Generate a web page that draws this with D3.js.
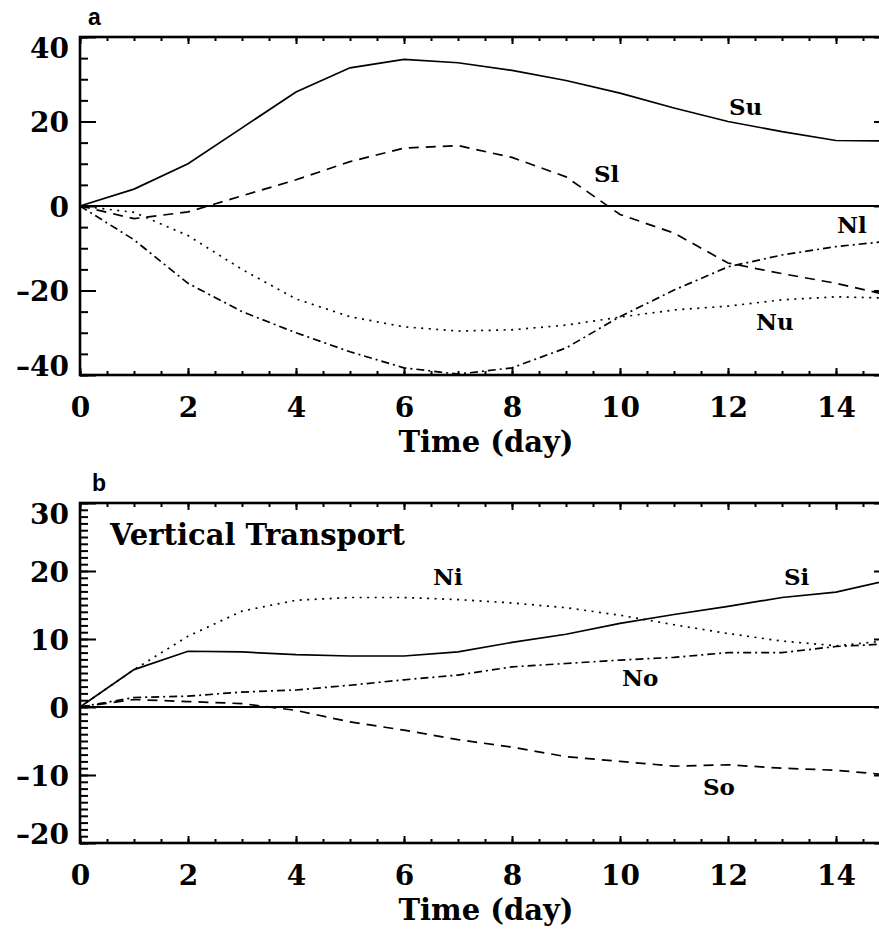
<!DOCTYPE html>
<html>
<head>
<meta charset="utf-8">
<script src="https://cdn.jsdelivr.net/npm/d3@7"></script>
<style>
  html, body { margin: 0; padding: 0; background: #fff; }
  svg { display: block; }
</style>
</head>
<body>
<script>
// ---------------- data ----------------
const days = [0,1,2,3,4,5,6,7,8,9,10,11,12,13,14,15];

// panel a
const Su = [0,4,10,18.5,27,32.7,34.7,33.9,32.1,29.7,26.7,23.2,20,17.6,15.5,15.4];
const Sl = [0,-3,-1.4,2.4,6.2,10.5,13.7,14.3,11.5,6.9,-2,-6.4,-13.5,-16,-18.3,-21.2];
const Nu = [0,-1.5,-7,-15,-22,-26.2,-28.6,-29.6,-29.3,-28.2,-26.3,-24.6,-23.7,-22.2,-21.5,-21.8];
const Nl = [0,-8,-18.3,-25,-30,-34.5,-38.3,-39.8,-38.3,-33.6,-26.2,-19.9,-14.4,-11.6,-9.6,-8.3];

// panel b
const Si = [0,5.5,8.2,8.1,7.7,7.5,7.5,8.1,9.5,10.7,12.3,13.6,14.8,16.1,16.9,18.7];
const Ni = [0,5.5,10.4,14.1,15.7,16.1,16.1,15.8,15.3,14.6,13.5,12.1,10.8,9.7,9.0,9.8];
const No = [0,1.4,1.6,2.2,2.5,3.2,4.0,4.7,5.9,6.4,6.9,7.3,8.0,8.0,8.9,9.3];
const So = [0,1.1,0.8,0.5,-0.5,-2.2,-3.4,-4.8,-5.9,-7.3,-8.0,-8.7,-8.5,-9.0,-9.3,-10.0];

const xTicks = [0,2,4,6,8,10,12,14];
const yTicksA = [-40,-20,0,20,40];
const yTicksB = [-20,-10,0,10,20,30];

// ---------------- layout ----------------
const W = 879, H = 929;
const svg = d3.select("body").append("svg").attr("width", W).attr("height", H);
svg.append("rect").attr("width", W).attr("height", H).attr("fill", "#fff");

const serif = "'DejaVu Serif', serif";
const DASH = { solid: null, dashed: "10,7", dotted: "2,5.5", dashdot: "8,4,2,4" };

function panel(opt) {
  const x = d3.scaleLinear().domain([0, 15]).range([80, 890]);
  const y = d3.scaleLinear().domain(opt.ydom).range([opt.bottom, opt.top]);
  const g = svg.append("g");

  // zero line
  g.append("line").attr("x1", x(0)).attr("x2", x(15)).attr("y1", y(0)).attr("y2", y(0))
    .attr("stroke", "#000").attr("stroke-width", 2);

  // series
  const line = d3.line().x((d, i) => x(days[i])).y(d => y(d));
  opt.series.forEach(s => {
    g.append("path").datum(s.values).attr("d", line)
      .attr("fill", "none").attr("stroke", "#000").attr("stroke-width", 1.7)
      .attr("stroke-dasharray", DASH[s.style]);
  });

  // axes: major + minor ticks on all sides, pointing inward
  const xMinor = d3.range(0, 15.01, 0.5);
  const yMinor = d3.range(opt.ydom[0], opt.ydom[1] + 0.01, opt.yminor);

  const bottomMaj = g.append("g").attr("transform", `translate(0,${opt.bottom})`)
    .call(d3.axisBottom(x).tickValues(xTicks).tickSizeInner(-7).tickSizeOuter(0).tickPadding(0).tickFormat(d3.format("d")));
  g.append("g").attr("transform", `translate(0,${opt.bottom})`)
    .call(d3.axisBottom(x).tickValues(xMinor).tickSizeInner(-4).tickSizeOuter(0).tickFormat(""));
  g.append("g").attr("transform", `translate(0,${opt.top})`)
    .call(d3.axisTop(x).tickValues(xTicks).tickSizeInner(-7).tickSizeOuter(0).tickFormat(""));
  g.append("g").attr("transform", `translate(0,${opt.top})`)
    .call(d3.axisTop(x).tickValues(xMinor).tickSizeInner(-4).tickSizeOuter(0).tickFormat(""));

  const leftMaj = g.append("g").attr("transform", `translate(80,0)`)
    .call(d3.axisLeft(y).tickValues(opt.yticks).tickSizeInner(-16).tickSizeOuter(0).tickPadding(11).tickFormat(d3.format("d")));
  g.append("g").attr("transform", `translate(80,0)`)
    .call(d3.axisLeft(y).tickValues(yMinor).tickSizeInner(-8).tickSizeOuter(0).tickFormat(""));
  g.append("g").attr("transform", `translate(890,0)`)
    .call(d3.axisRight(y).tickValues(opt.yticks).tickSizeInner(-16).tickSizeOuter(0).tickFormat(""));
  g.append("g").attr("transform", `translate(890,0)`)
    .call(d3.axisRight(y).tickValues(yMinor).tickSizeInner(-8).tickSizeOuter(0).tickFormat(""));

  g.selectAll(".domain").remove();
  g.selectAll(".tick line").attr("stroke", "#000").attr("stroke-width", 2);

  // frame
  g.append("rect").attr("x", 80).attr("y", opt.top).attr("width", 810).attr("height", opt.bottom - opt.top)
    .attr("fill", "none").attr("stroke", "#000").attr("stroke-width", 2.6);

  // tick label styling
  bottomMaj.selectAll("text").attr("font-family", serif).attr("font-weight", "bold")
    .attr("font-size", 28).attr("fill", "#000").attr("y", 42).attr("dy", null);
  leftMaj.selectAll("text").attr("font-family", serif).attr("font-weight", "bold")
    .attr("font-size", 28).attr("fill", "#000").attr("dy", null)
    .attr("y", d => {
      if (d === opt.ydom[1]) return 20;          // top label sits inside
      if (d === opt.ydom[0]) return 0;           // bottom label sits on axis
      return 10;
    })
    .text(d => d < 0 ? "\u2013" + Math.abs(d) : d);

  // axis title
  g.append("text").attr("x", 486).attr("y", opt.bottom + 77).attr("text-anchor", "middle")
    .attr("font-family", serif).attr("font-weight", "bold").attr("font-size", 29).text("Time (day)");

  // panel letter
  g.append("text").attr("x", opt.letterX).attr("y", opt.top - 12)
    .attr("font-family", "'Liberation Sans', Arial, sans-serif").attr("font-weight", "bold")
    .attr("font-size", 23).text(opt.letter);

  // series labels
  opt.labels.forEach(l => {
    g.append("text").attr("x", l.x).attr("y", l.y)
      .attr("font-family", serif).attr("font-weight", "bold").attr("font-size", 23).text(l.t);
  });
  return g;
}

panel({
  top: 37, bottom: 375, ydom: [-40, 40], yminor: 5, yticks: yTicksA, letter: "a", letterX: 88,
  series: [
    { values: Su, style: "solid" },
    { values: Sl, style: "dashed" },
    { values: Nu, style: "dotted" },
    { values: Nl, style: "dashdot" }
  ],
  labels: [
    { t: "Su", x: 729, y: 115 },
    { t: "Sl", x: 594, y: 182 },
    { t: "Nl", x: 837, y: 233 },
    { t: "Nu", x: 756, y: 330 }
  ]
});

const pb = panel({
  top: 503, bottom: 843, ydom: [-20, 30], yminor: 1, yticks: yTicksB, letter: "b", letterX: 92,
  series: [
    { values: Si, style: "solid" },
    { values: Ni, style: "dotted" },
    { values: No, style: "dashdot" },
    { values: So, style: "dashed" }
  ],
  labels: [
    { t: "Ni", x: 433, y: 585 },
    { t: "Si", x: 784, y: 585 },
    { t: "No", x: 622, y: 686 },
    { t: "So", x: 703, y: 795 }
  ]
});

pb.append("text").attr("x", 110).attr("y", 545)
  .attr("font-family", serif).attr("font-weight", "bold").attr("font-size", 29)
  .text("Vertical Transport");
</script>
</body>
</html>
